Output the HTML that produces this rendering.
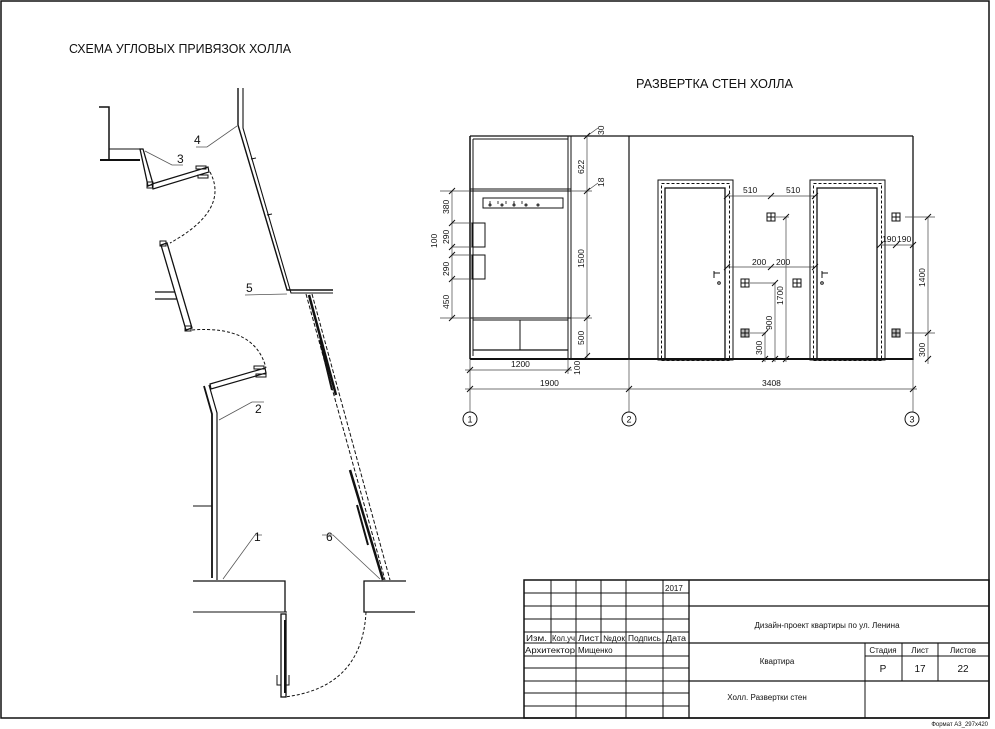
<!DOCTYPE html>
<html><head><meta charset="utf-8"><style>
html,body{margin:0;padding:0;background:#fff;}
svg{display:block;}
text{font-family:"Liberation Sans","DejaVu Sans",sans-serif;fill:#111;}
</style></head><body>
<svg width="995" height="729" viewBox="0 0 995 729" xmlns="http://www.w3.org/2000/svg">
<rect x="1" y="1" width="988" height="717" fill="none" stroke="#111" stroke-width="1.5"/>
<text x="69" y="53" font-size="13" textLength="222" lengthAdjust="spacingAndGlyphs">СХЕМА УГЛОВЫХ ПРИВЯЗОК ХОЛЛА</text>
<text x="636" y="88" font-size="13" textLength="157" lengthAdjust="spacingAndGlyphs">РАЗВЕРТКА СТЕН ХОЛЛА</text>

<!-- LEFT SCHEMA -->
<g stroke="#111" fill="none" stroke-width="1">
<polyline points="99,107 109,107 109,160" stroke-width="1.5"/>
<line x1="100" y1="160" x2="140" y2="160" stroke-width="2"/>
<line x1="109" y1="149" x2="142" y2="149"/>
<polygon points="140,149 143,149 153,184 148,186" stroke-width="1.3"/>
<polygon points="152,184 208,167 209,172 153,189" stroke-width="1.2"/>
<rect x="147" y="182" width="6" height="6"/>
<rect x="196" y="166" width="10" height="3"/><rect x="198" y="175" width="10" height="3"/>
<path d="M210,172 Q230,210 170,243" stroke-dasharray="3,2"/>
<polygon points="161,245 167,243 192,328 186,330" stroke-width="1.3"/>
<rect x="160" y="241" width="6" height="5"/><rect x="185" y="326" width="6" height="5"/>
<line x1="155" y1="292" x2="175" y2="292" stroke-width="1.3"/>
<line x1="155" y1="299" x2="177" y2="299" stroke-width="1.3"/>
<path d="M192,330 Q255,325 266,368" stroke-dasharray="3,2"/>
<polygon points="210,384 265,368 266,373 211,389" stroke-width="1.2"/>
<rect x="254" y="366" width="10" height="3"/><rect x="256" y="374" width="10" height="3"/>
<polyline points="204,386 212,414 212,578" stroke-width="1.8"/>
<polyline points="209,385 217,413 217,580" stroke-width="1.2"/>
<line x1="193" y1="506" x2="212" y2="506"/>
<polyline points="193,581 285,581 285,612" stroke-width="1.3"/>
<line x1="193" y1="612" x2="287" y2="612"/>
<polyline points="406,581 364,581 364,612 415,612" stroke-width="1.3"/>
<rect x="281" y="614" width="5" height="83" stroke-width="1.3"/>
<line x1="285" y1="620" x2="285" y2="693" stroke-width="2"/>
<path d="M277,675 v10 h4 M289,675 v10 h-4"/>
<path d="M366,612 Q362,688 284,697" stroke-dasharray="3,2"/>
<polyline points="238,88 238,125 287,290 333,290" stroke-width="1.4"/>
<polyline points="243,88 243,128 291,293 333,293" stroke-width="1.1"/>
<line x1="251" y1="159" x2="256" y2="158"/><line x1="267" y1="215" x2="272" y2="214"/>
<line x1="306" y1="294" x2="385" y2="580" stroke-dasharray="4,2"/>
<line x1="312" y1="294" x2="390" y2="580" stroke-dasharray="4,2"/>
<line x1="309" y1="295" x2="336" y2="395" stroke-width="2.5"/>
<line x1="320" y1="340" x2="332" y2="390" stroke-width="2"/>
<line x1="350" y1="470" x2="383" y2="580" stroke-width="2.5"/>
<line x1="357" y1="505" x2="368" y2="545" stroke-width="2"/>
<g stroke="#555" stroke-width="0.8">
<polyline points="196,147 207,147 237,126"/>
<polyline points="183,165 172,165 145,151"/>
<polyline points="245,295 287,294"/>
<polyline points="264,402 252,402 219,420"/>
<polyline points="262,535 255,535 223,579"/>
<polyline points="322,535 333,535 380,579"/>
</g>
</g>
<g font-size="12">
<text x="194" y="144">4</text><text x="177" y="163">3</text><text x="246" y="292">5</text>
<text x="255" y="413">2</text><text x="254" y="541">1</text><text x="326" y="541">6</text>
</g>

<!-- ELEVATION -->
<g stroke="#111" fill="none" stroke-width="1">
<line x1="470" y1="136" x2="913" y2="136" stroke-width="1.3"/>
<line x1="470" y1="136" x2="470" y2="359" stroke-width="1.5"/>
<line x1="913" y1="136" x2="913" y2="360" stroke-width="1.3"/>
<line x1="629" y1="136" x2="629" y2="359" stroke-width="1.2"/>
<line x1="568" y1="136" x2="568" y2="359"/><line x1="571" y1="136" x2="571" y2="359"/>
<line x1="473" y1="139" x2="473" y2="356"/>
<line x1="473" y1="139" x2="568" y2="139"/>
<line x1="470" y1="189" x2="571" y2="189"/><line x1="470" y1="191" x2="571" y2="191"/>
<rect x="483" y="198" width="80" height="10"/>
<path d="M490,201v3M498,201v3M506,201v3M514,201v3M522,201v3" stroke-width="0.8"/>
<circle cx="490" cy="205" r="1"/><circle cx="502" cy="205" r="1"/><circle cx="514" cy="205" r="1"/><circle cx="526" cy="205" r="1"/><circle cx="538" cy="205" r="1"/>
<line x1="470" y1="318" x2="571" y2="318"/><line x1="473" y1="320" x2="568" y2="320"/>
<line x1="473" y1="350" x2="568" y2="350" stroke-width="1.3"/>
<line x1="520" y1="320" x2="520" y2="350"/>
<rect x="472" y="223" width="13" height="24"/><rect x="472" y="255" width="13" height="24"/>
<line x1="470" y1="359" x2="913" y2="359" stroke-width="2"/>
<rect x="658" y="180" width="75" height="180"/>
<rect x="661.5" y="183.5" width="68" height="177" stroke-dasharray="3,2"/>
<rect x="665" y="188" width="60" height="172" stroke-width="1.3"/>
<rect x="810" y="180" width="75" height="180"/>
<rect x="813.5" y="183.5" width="68" height="177" stroke-dasharray="3,2"/>
<rect x="817" y="188" width="60" height="172" stroke-width="1.3"/>
<path d="M714,273 h6 M714,271 v7 M822,273 h6 M822,271 v7"/>
<circle cx="719" cy="283" r="1.3"/><circle cx="822" cy="283" r="1.3"/>
<g>
<rect x="767" y="213" width="8" height="8"/><path d="M771,213v8M767,217h8"/>
<rect x="741" y="279" width="8" height="8"/><path d="M745,279v8M741,283h8"/>
<rect x="793" y="279" width="8" height="8"/><path d="M797,279v8M793,283h8"/>
<rect x="741" y="329" width="8" height="8" fill="#bbb"/><path d="M745,329v8M741,333h8"/>
<rect x="892" y="213" width="8" height="8"/><path d="M896,213v8M892,217h8"/>
<rect x="892" y="329" width="8" height="8" fill="#bbb"/><path d="M896,329v8M892,333h8"/>
</g>
</g>
<g stroke="#444" stroke-width="0.7" fill="none">
<line x1="440" y1="191" x2="470" y2="191"/><line x1="440" y1="318" x2="470" y2="318"/>
<line x1="452" y1="191" x2="452" y2="318"/>
<line x1="452" y1="223" x2="472" y2="223"/><line x1="452" y1="247" x2="472" y2="247"/>
<line x1="452" y1="255" x2="472" y2="255"/><line x1="452" y1="279" x2="472" y2="279"/>
<line x1="587" y1="136" x2="587" y2="359"/>
<line x1="571" y1="191" x2="592" y2="191"/><line x1="571" y1="318" x2="592" y2="318"/>
<line x1="587" y1="136" x2="598" y2="128"/><line x1="587" y1="191" x2="598" y2="183"/>
<line x1="470" y1="359" x2="470" y2="412"/><line x1="629" y1="359" x2="629" y2="412"/><line x1="913" y1="360" x2="913" y2="412"/>
<line x1="568" y1="359" x2="568" y2="374"/>
<line x1="465" y1="370" x2="572" y2="370"/>
<line x1="465" y1="389" x2="917" y2="389"/>
<line x1="727" y1="196" x2="815" y2="196"/>
<line x1="727" y1="267" x2="815" y2="267"/>
<line x1="880" y1="245" x2="913" y2="245"/>
<line x1="905" y1="217" x2="935" y2="217"/><line x1="905" y1="333" x2="935" y2="333"/>
<line x1="928" y1="217" x2="928" y2="364"/>
<line x1="776" y1="217" x2="789" y2="217"/><line x1="786" y1="217" x2="786" y2="362"/>
<line x1="750" y1="283" x2="776" y2="283"/><line x1="775" y1="283" x2="775" y2="362"/>
<line x1="750" y1="333" x2="766" y2="333"/><line x1="765" y1="333" x2="765" y2="362"/>
</g>
<g stroke="#111" stroke-width="1">
<path d="M449,194l6,-6M449,226l6,-6M449,250l6,-6M449,258l6,-6M449,282l6,-6M449,321l6,-6"/>
<path d="M584,139l6,-6M584,194l6,-6M584,321l6,-6M584,359l6,-6"/>
<path d="M467,373l6,-6M565,373l6,-6M467,392l6,-6M626,392l6,-6M910,392l6,-6"/>
<path d="M724,199l6,-6M768,199l6,-6M812,199l6,-6M724,270l6,-6M768,270l6,-6M812,270l6,-6"/>
<path d="M877,248l6,-6M893,248l6,-6M910,248l6,-6"/>
<path d="M925,220l6,-6M925,336l6,-6M925,362l6,-6"/>
<path d="M783,220l6,-6M772,286l6,-6M762,336l6,-6M762,362l6,-6M772,362l6,-6M783,362l6,-6"/>
</g>
<g font-size="8.5">
<text transform="translate(449,214) rotate(-90)">380</text>
<text transform="translate(449,244) rotate(-90)">290</text>
<text transform="translate(437,248) rotate(-90)">100</text>
<text transform="translate(449,276) rotate(-90)">290</text>
<text transform="translate(449,309) rotate(-90)">450</text>
<text transform="translate(584,174) rotate(-90)">622</text>
<text transform="translate(584,268) rotate(-90)">1500</text>
<text transform="translate(584,345) rotate(-90)">500</text>
<text transform="translate(604,135) rotate(-90)">30</text>
<text transform="translate(604,187) rotate(-90)">18</text>
<text transform="translate(580,375) rotate(-90)">100</text>
<text transform="translate(925,287) rotate(-90)">1400</text>
<text transform="translate(925,357) rotate(-90)">300</text>
<text transform="translate(783,305) rotate(-90)">1700</text>
<text transform="translate(772,330) rotate(-90)">900</text>
<text transform="translate(762,355) rotate(-90)">300</text>
<text x="511" y="367">1200</text>
<text x="540" y="386">1900</text>
<text x="762" y="386">3408</text>
<text x="743" y="193">510</text><text x="786" y="193">510</text>
<text x="752" y="265">200</text><text x="776" y="265">200</text>
<text x="882" y="242">190</text><text x="897" y="242">190</text>
</g>
<g stroke="#111" fill="none" stroke-width="1">
<circle cx="470" cy="419" r="7"/><circle cx="629" cy="419" r="7"/><circle cx="912" cy="419" r="7"/>
</g>
<g font-size="9" text-anchor="middle">
<text x="470" y="422.5">1</text><text x="629" y="422.5">2</text><text x="912" y="422.5">3</text>
</g>

<!-- TITLE BLOCK -->
<g stroke="#111" fill="none" stroke-width="1">
<rect x="524" y="580" width="465" height="138" stroke-width="1.5"/>
<line x1="689" y1="580" x2="689" y2="718" stroke-width="1.3"/>
<path d="M551,580V643M576,580V718M601,580V643M626,580V718M663,580V718"/>
<path d="M524,593H689M524,606H689M524,619H689M524,632H689M524,643H689M524,656H689M524,668H689M524,681H689M524,693H689M524,706H689"/>
<path d="M689,606H989M689,643H989M689,681H989" stroke-width="1.2"/>
<path d="M865,643V718M902,643V681M938,643V681M865,656H989"/>
</g>
<g font-size="8">
<text x="665" y="591">2017</text>
<text x="526" y="641" textLength="21" lengthAdjust="spacingAndGlyphs">Изм.</text>
<text x="552" y="641" textLength="23" lengthAdjust="spacingAndGlyphs">Кол.уч</text>
<text x="578" y="641" textLength="21" lengthAdjust="spacingAndGlyphs">Лист</text>
<text x="603" y="641" textLength="22" lengthAdjust="spacingAndGlyphs">№док</text>
<text x="628" y="641" textLength="33" lengthAdjust="spacingAndGlyphs">Подпись</text>
<text x="666" y="641" textLength="20" lengthAdjust="spacingAndGlyphs">Дата</text>
<text x="525" y="653" textLength="50" lengthAdjust="spacingAndGlyphs">Архитектор</text>
<text x="578" y="653">Мищенко</text>
<text x="827" y="628" text-anchor="middle">Дизайн-проект квартиры по ул. Ленина</text>
<text x="777" y="664" text-anchor="middle">Квартира</text>
<text x="767" y="700" text-anchor="middle">Холл. Развертки стен</text>
<text x="883" y="653" text-anchor="middle">Стадия</text><text x="920" y="653" text-anchor="middle">Лист</text><text x="963" y="653" text-anchor="middle">Листов</text>
<text x="883" y="672" text-anchor="middle" font-size="10">Р</text><text x="920" y="672" text-anchor="middle" font-size="10">17</text><text x="963" y="672" text-anchor="middle" font-size="10">22</text>
</g>
<text x="988" y="726" font-size="6" text-anchor="end">Формат А3_297х420</text>
</svg>
</body></html>
